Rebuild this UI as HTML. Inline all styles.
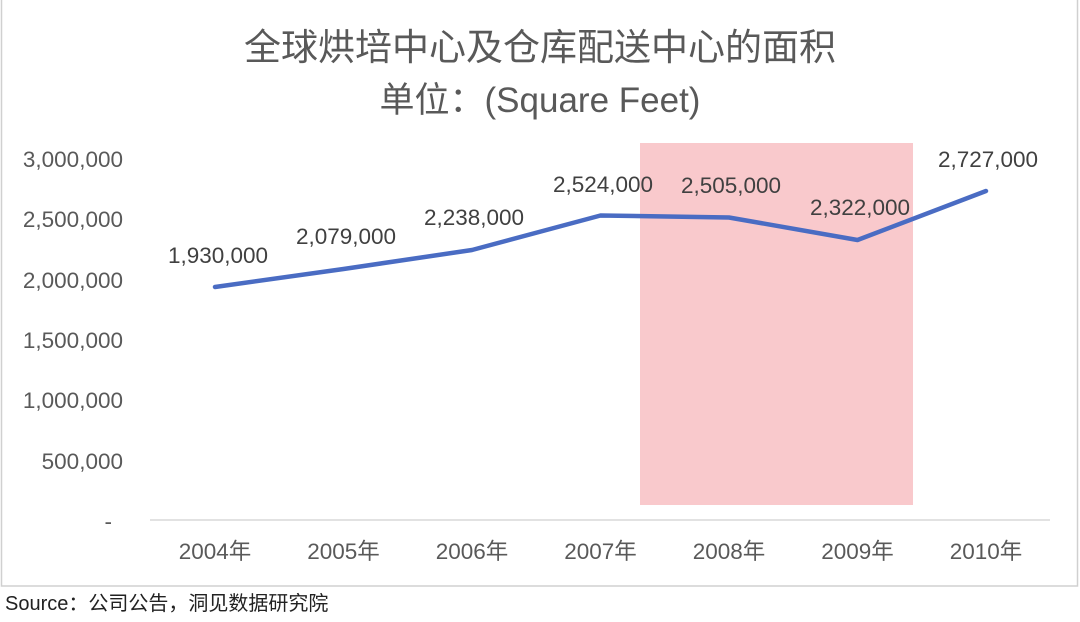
<!DOCTYPE html>
<html><head><meta charset="utf-8"><style>
body{margin:0;width:1080px;height:617px;background:#fff;overflow:hidden;font-family:"Liberation Sans","Noto Sans CJK SC",sans-serif}
</style></head><body>
<svg width="1080" height="617" xmlns="http://www.w3.org/2000/svg" font-family="Liberation Sans, Noto Sans CJK SC, sans-serif">
<rect x="1.5" y="-2" width="1076" height="588" fill="#fff" stroke="#d0d0d0" stroke-width="1.5"/>
<rect x="640" y="143" width="273" height="362" fill="#f8c3c6" opacity="0.9"/>
<g fill="#595959" text-anchor="middle">
<text x="540" y="60" font-size="37">全球烘培中心及仓库配送中心的面积</text>
<text x="540" y="112" font-size="35">单位：(Square Feet)</text>
</g>
<g fill="#595959" font-size="22.5" text-anchor="end">
<text x="123" y="167">3,000,000</text>
<text x="123" y="227">2,500,000</text>
<text x="123" y="288">2,000,000</text>
<text x="123" y="348">1,500,000</text>
<text x="123" y="408">1,000,000</text>
<text x="123" y="469">500,000</text>
<text x="112" y="529">-</text>
</g>
<line x1="150" y1="520" x2="1050" y2="520" stroke="#d9d9d9" stroke-width="1.5"/>
<g fill="#595959" font-size="22.5" text-anchor="middle">
<text x="215" y="559">2004年</text>
<text x="343.5" y="559">2005年</text>
<text x="472" y="559">2006年</text>
<text x="600.5" y="559">2007年</text>
<text x="729" y="559">2008年</text>
<text x="857.5" y="559">2009年</text>
<text x="986" y="559">2010年</text>
</g>
<polyline points="215,287 343.5,269 472,250 600.5,215.5 729,217.5 857.5,240 986,191" fill="none" stroke="#4a6cc3" stroke-width="4.5" stroke-linejoin="round" stroke-linecap="round"/>
<g fill="#404040" font-size="22.5" text-anchor="middle">
<text x="218" y="263">1,930,000</text>
<text x="346" y="244">2,079,000</text>
<text x="474" y="225">2,238,000</text>
<text x="603" y="192">2,524,000</text>
<text x="731" y="193">2,505,000</text>
<text x="860" y="215">2,322,000</text>
<text x="988" y="167">2,727,000</text>
</g>
<text x="5" y="610" font-size="20" fill="#222">Source：公司公告，洞见数据研究院</text>
</svg>
</body></html>
